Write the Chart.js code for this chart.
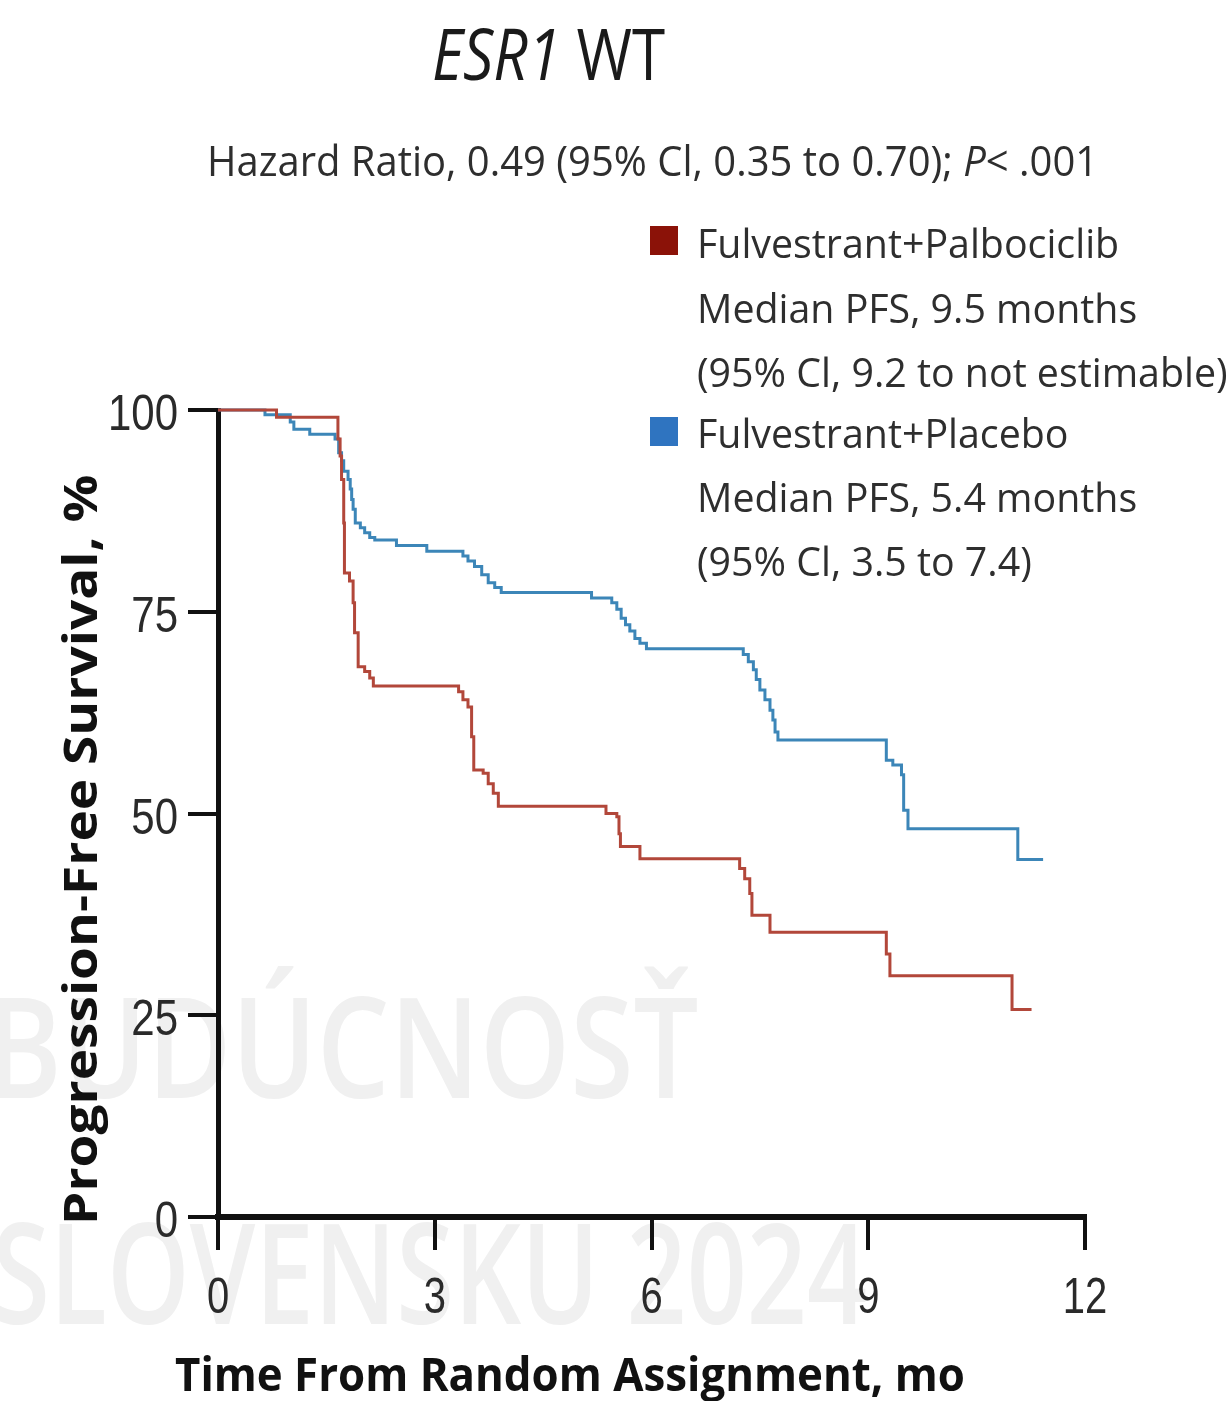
<!DOCTYPE html>
<html>
<head>
<meta charset="utf-8">
<script src="https://cdn.jsdelivr.net/npm/chart.js@4.4.1/dist/chart.umd.min.js"></script>
<style>
  html, body { margin: 0; padding: 0; background: #fff; }
  #wrap { position: relative; width: 1230px; height: 1401px; overflow: hidden; font-family: 'Open Sans', sans-serif; }
  #wrap canvas { position: absolute; left: 0; top: 0; z-index: 2; }
  .txt { position: absolute; white-space: nowrap; line-height: 1; transform-origin: 0 0; z-index: 3; }
  .wm { position: absolute; white-space: nowrap; line-height: 1; transform-origin: 0 0; z-index: 0; color: #f0f0f0; font-weight: 600; }
  .box { position: absolute; width: 28px; height: 29px; z-index: 3; }
</style>
</head>
<body>
<div id="wrap">
  <div class="wm" id="wm1" style="left:-14px; top:974px; font-size:140px;">BUDÚCNOSŤ</div>
  <div class="wm" id="wm2" style="left:-8px; top:1200px; font-size:140px;">SLOVENSKU 2024</div>

  <div class="txt" id="title" style="left:432px; top:16px; font-size:72px; color:#1a1a1a;"><i>ESR1</i> WT</div>
  <div class="txt" id="sub" style="left:207px; top:139px; font-size:42px; color:#2e2e2e;">Hazard Ratio, 0.49 (95% Cl, 0.35 to 0.70); <i>P</i>&lt; .001</div>

  <div class="box" style="left:650px; top:226px; background:#8b1208;"></div>
  <div class="box" style="left:650px; top:417px; background:#2f74c0;"></div>
  <div class="txt leg" style="left:697px; top:223px; font-size:40px; color:#2e2e2e;">Fulvestrant+Palbociclib</div>
  <div class="txt leg" style="left:697px; top:288px; font-size:40px; color:#2e2e2e;">Median PFS, 9.5 months</div>
  <div class="txt leg" id="longest" style="left:697px; top:352px; font-size:40px; color:#2e2e2e;">(95% Cl, 9.2 to not estimable)</div>
  <div class="txt leg" style="left:697px; top:413px; font-size:40px; color:#2e2e2e;">Fulvestrant+Placebo</div>
  <div class="txt leg" style="left:697px; top:477px; font-size:40px; color:#2e2e2e;">Median PFS, 5.4 months</div>
  <div class="txt leg" style="left:697px; top:541px; font-size:40px; color:#2e2e2e;">(95% Cl, 3.5 to 7.4)</div>

  <div class="txt" id="xtitle" style="left:175px; top:1350px; font-size:47px; font-weight:700; color:#111;">Time From Random Assignment, mo</div>
  <div class="txt" id="ytitle" style="left:56px; top:1225px; font-size:47px; font-weight:700; color:#111;">Progression-Free Survival, %</div>

  <canvas id="km" width="1230" height="1401"></canvas>
</div>
<script>
// Fulvestrant+Palbociclib (red)
const palboTime = [0, 0.81, 1.66, 1.69, 1.71, 1.74, 1.75, 1.82, 1.87, 1.89,
  1.94, 2.03, 2.10, 2.15, 3.33, 3.39, 3.46, 3.51, 3.54, 3.67,
  3.74, 3.81, 3.88, 5.37, 5.52, 5.55, 5.57, 5.84, 7.22, 7.29,
  7.36, 7.39, 7.64, 9.25, 9.30, 10.99, 11.26]
const palboPfs = [100, 99.1, 96.4, 94.3, 91.4, 86.0, 79.8, 78.8, 76.1, 72.4,
  68.2, 67.6, 66.8, 65.8, 65.1, 64.1, 63.2, 59.5, 55.4, 55.0,
  53.7, 52.5, 50.9, 50.0, 49.6, 47.5, 45.9, 44.4, 43.2, 41.9,
  40.1, 37.4, 35.3, 32.6, 29.9, 25.7, 25.7]

// Fulvestrant+Placebo (blue)
const placeboTime = [0, 0.65, 1.0, 1.05, 1.27, 1.62, 1.67, 1.71, 1.74, 1.80,
  1.83, 1.85, 1.87, 1.90, 1.97, 2.03, 2.10, 2.17, 2.47, 2.89,
  3.39, 3.46, 3.55, 3.65, 3.74, 3.83, 3.92, 5.17, 5.45, 5.52,
  5.58, 5.64, 5.70, 5.77, 5.84, 5.93, 7.27, 7.34, 7.41, 7.45,
  7.50, 7.57, 7.64, 7.68, 7.71, 7.75, 9.25, 9.34, 9.46, 9.49,
  9.55, 11.07, 11.42]
const placeboPfs = [100, 99.4, 98.5, 97.6, 97.0, 96.4, 94.7, 93.7, 92.4, 91.4,
  90.2, 88.9, 87.7, 86.0, 85.4, 84.8, 84.2, 83.9, 83.2, 82.5,
  81.9, 81.3, 80.6, 79.6, 78.6, 78.0, 77.4, 76.7, 76.1, 75.3,
  74.2, 73.4, 72.6, 71.7, 71.1, 70.4, 69.7, 68.8, 67.8, 66.6,
  65.3, 64.1, 62.8, 61.6, 60.1, 59.1, 56.6, 56.0, 54.8, 50.4,
  48.1, 44.3, 44.3]

const xTicks = [0, 3, 6, 9, 12]
const yTicks = [0, 25, 50, 75, 100]

const toPoints = (t, s) => t.map((v, i) => ({ x: v, y: s[i] }))

// squeeze text horizontally to the width it has in the figure
const fitWidth = (el, w) => {
  el.style.transform = 'scaleX(' + (w / el.offsetWidth) + ')'
}
fitWidth(document.getElementById('title'), 233)
fitWidth(document.getElementById('sub'), 891)
fitWidth(document.getElementById('xtitle'), 790)
fitWidth(document.getElementById('wm1'), 712)
fitWidth(document.getElementById('wm2'), 875)
const longest = document.getElementById('longest')
const legScale = 531 / longest.offsetWidth
document.querySelectorAll('.leg').forEach(el => { el.style.transform = 'scaleX(' + legScale + ')' })
const yt = document.getElementById('ytitle')
yt.style.transform = 'rotate(-90deg) scaleX(' + (750 / yt.offsetWidth) + ')'

const axisLine = '#111'

// tick labels in the figure are a narrow face: draw them squeezed
const narrowTicks = {
  id: 'narrowTicks',
  afterDraw(chart) {
    const c = chart.ctx
    c.save()
    c.font = "50px 'Liberation Sans', Arial, sans-serif"
    c.fillStyle = '#2a2a2a'
    const xs = chart.scales.x
    const ys = chart.scales.y
    c.textAlign = 'center'
    c.textBaseline = 'alphabetic'
    xs.ticks.forEach(t => {
      c.save()
      c.translate(xs.getPixelForValue(t.value), xs.top + 96)
      c.scale(0.8, 1)
      c.fillText(String(t.value), 0, 0)
      c.restore()
    })
    c.textAlign = 'right'
    ys.ticks.forEach(t => {
      c.save()
      c.translate(ys.right - 40, ys.getPixelForValue(t.value) + 20)
      c.scale(0.84, 1)
      c.fillText(String(t.value), 0, 0)
      c.restore()
    })
    c.restore()
  }
}

const ctx = document.getElementById('km')
new Chart(ctx, {
  type: 'line',
  data: {
    datasets: [{
      label: 'Fulvestrant+Palbociclib',
      data: toPoints(palboTime, palboPfs),
      borderColor: '#b2473a',
      borderWidth: 3,
      stepped: true,
      pointRadius: 0,
      clip: false
    }, {
      label: 'Fulvestrant+Placebo',
      data: toPoints(placeboTime, placeboPfs),
      borderColor: '#3c86b8',
      borderWidth: 3,
      stepped: true,
      pointRadius: 0,
      clip: false
    }]
  },
  options: {
    responsive: false,
    animation: false,
    devicePixelRatio: 1,
    layout: { padding: { top: 410, right: 145, left: 0, bottom: 0 } },
    plugins: { legend: { display: false }, tooltip: { enabled: false } },
    scales: {
      x: {
        type: 'linear',
        min: 0,
        max: 12,
        afterBuildTicks: axis => { axis.ticks = xTicks.map(v => ({ value: v })) },
        afterFit: axis => { axis.height = 184 },
        ticks: { display: false },
        grid: { drawOnChartArea: false, tickLength: 33, lineWidth: 4, color: axisLine },
        border: { display: true, width: 6, color: axisLine }
      },
      y: {
        min: 0,
        max: 100,
        afterBuildTicks: axis => { axis.ticks = yTicks.map(v => ({ value: v })) },
        afterFit: axis => { axis.width = 218 },
        ticks: { display: false },
        grid: { drawOnChartArea: false, tickLength: 30, lineWidth: 4, color: axisLine },
        border: { display: true, width: 5, color: axisLine }
      }
    }
  },
  plugins: [narrowTicks]
})
</script>
</body>
</html>
